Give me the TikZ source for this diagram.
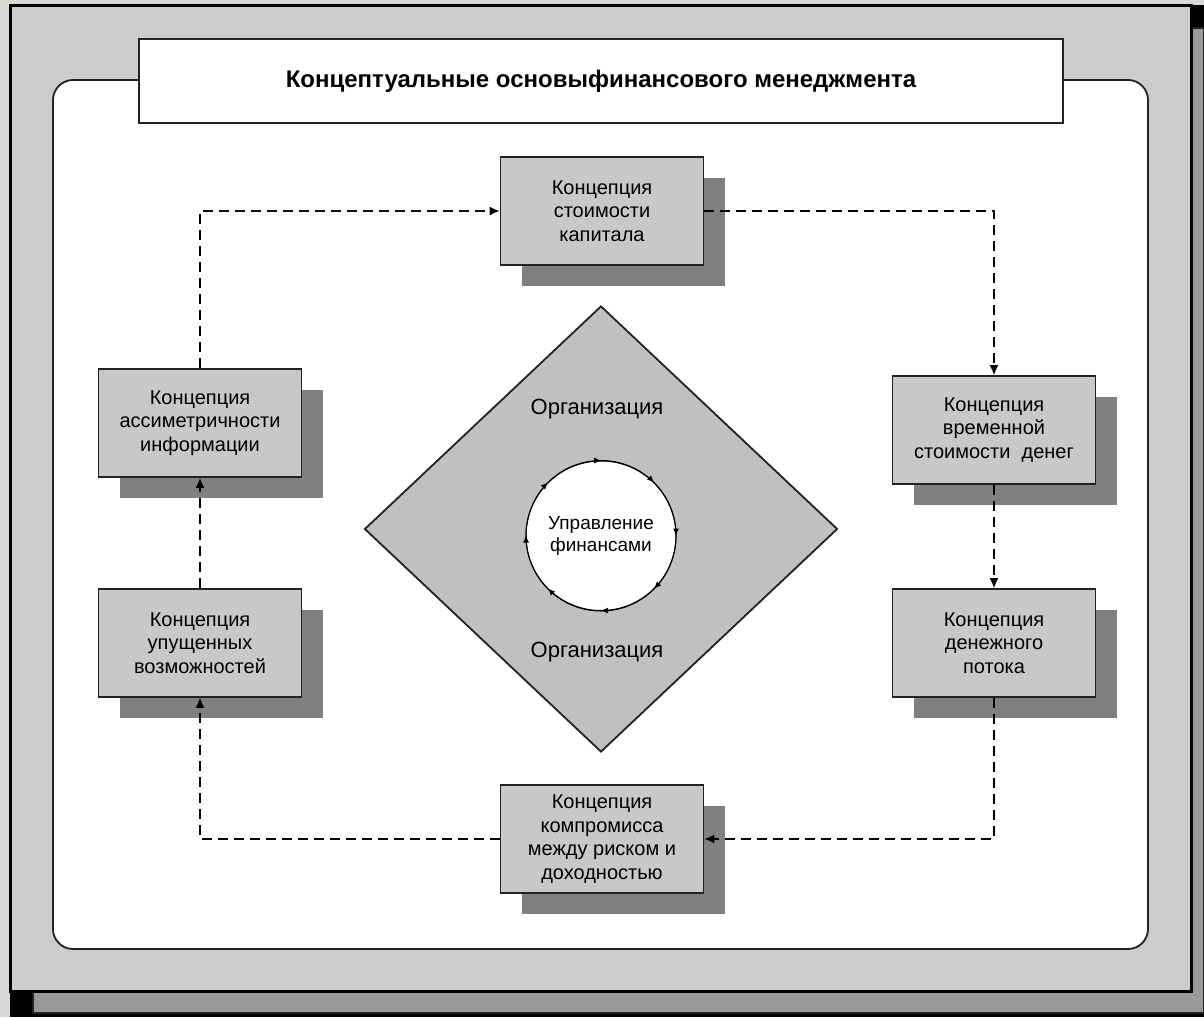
\documentclass[tikz,border=0pt]{standalone}
\usepackage{fontspec}
\setmainfont{Liberation Sans}
\usepackage{tikz}
\usetikzlibrary{shapes, arrows.meta, positioning, shadows, decorations.markings}
\definecolor{bggray}{HTML}{D8D8D4}
\definecolor{framegray}{HTML}{CCCCCC}
\definecolor{framedark}{HTML}{999999}
\definecolor{boxgray}{HTML}{C8C8C8}
\definecolor{shadegray}{HTML}{808080}
\definecolor{diagray}{HTML}{C0C0C0}
\definecolor{linegray}{HTML}{222222}
\tikzstyle{concept} = [rectangle, minimum width=101.5pt, minimum height=54pt, text centered, align=center, draw=linegray, line width=0.9pt, fill=boxgray, font=\fontsize{10}{11.75}\selectfont, drop shadow={shadow xshift=10.5pt, shadow yshift=-10.5pt, fill=shadegray, opacity=1, draw=none}]
\tikzstyle{arrow} = [line width=0.7pt, dash pattern=on 5pt off 3pt, -{Latex[length=5pt, width=4.5pt]}]
\tikzstyle{ring} = [line width=0.5pt, postaction={decorate}, decoration={markings, mark=between positions 0 and 0.99 step 0.125 with {\arrow{Latex[length=3.5pt, width=3pt]}}}]

\begin{document}
\begin{tikzpicture}[x=0.5pt, y=0.5pt]
\useasboundingbox (0,0) rectangle (1204,-1017);
% frame and panel
\fill [bggray] (0,0) rectangle (1204,-1017);
\fill [black] (10,-5) rectangle (1204,-1017);
\draw [linegray, fill=framedark, line width=0.8pt] (33,-28) rectangle (1204,-1013);
\draw [black, fill=framegray, line width=1.5pt] (10,-5) rectangle (1191,-991);
\draw [linegray, fill=white, line width=0.9pt, rounded corners=10pt] (53,-80) rectangle (1148,-949);

\node (title) [rectangle, draw=linegray, line width=0.9pt, fill=white, minimum width=462pt, minimum height=42pt, font=\bfseries\fontsize{12}{14}\selectfont] at (601,-81) {Концептуальные основыфинансового менеджмента};

% centre
\node (org) [diamond, draw=linegray, line width=0.9pt, fill=diagray, minimum width=236.5pt, minimum height=223pt, inner sep=0pt] at (601,-529) {};
\node (orgtop) [font=\fontsize{11}{13}\selectfont] at (597,-409) {Организация};
\node (orgbot) [font=\fontsize{11}{13}\selectfont] at (597,-652) {Организация};
\node (core) [circle, draw=black, line width=0.5pt, fill=white, minimum size=75pt, inner sep=0pt, align=center, font=\fontsize{9.5}{11}\selectfont] at (601,-536) {Управление\\финансами};
\draw [ring] (core.north) arc [start angle=90, end angle=-270, radius=37.5pt];

% concepts
\node (capital) [concept] at (602,-211) {Концепция\\стоимости\\капитала};
\node (time) [concept] at (994,-430) {Концепция\\временной\\стоимости~~денег};
\node (flow) [concept, below of=time, node distance=106.5pt] {Концепция\\денежного\\потока};
\node (tradeoff) [concept] at (602,-839) {Концепция\\компромисса\\между риском и\\доходностью};
\node (lost) [concept] at (200,-643) {Концепция\\упущенных\\возможностей};
\node (asym) [concept] at (200,-423) {Концепция\\ассиметричности\\информации};

\draw [arrow] (asym) |- (capital);
\draw [arrow] (capital) -| (time);
\draw [arrow] (time) -- (flow);
\draw [arrow] (flow) |- (tradeoff);
\draw [arrow] (tradeoff) -| (lost);
\draw [arrow] (lost) -- (asym);
\end{tikzpicture}
\end{document}
